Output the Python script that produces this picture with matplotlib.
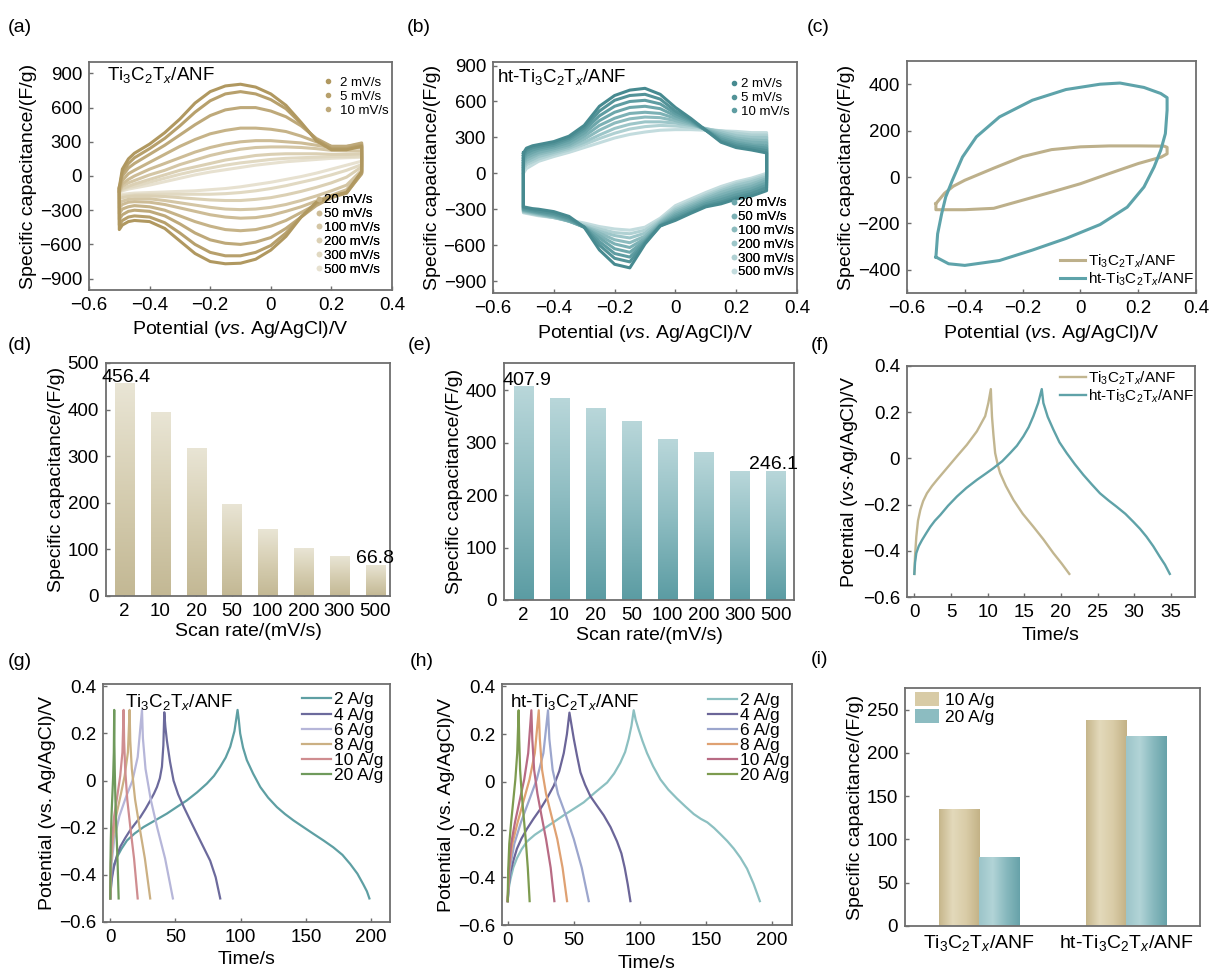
import numpy as np
import matplotlib
matplotlib.use('Agg')
import matplotlib.pyplot as plt
from matplotlib.lines import Line2D
from matplotlib.ticker import FuncFormatter
from matplotlib.colors import LinearSegmentedColormap

plt.rcParams['font.family'] = ['Liberation Sans', 'DejaVu Sans']
plt.rcParams['mathtext.fontset'] = 'custom'
plt.rcParams['mathtext.rm'] = 'Liberation Sans'
plt.rcParams['mathtext.it'] = 'Liberation Sans:italic'
plt.rcParams['axes.linewidth'] = 1.3
plt.rcParams['axes.edgecolor'] = '#6e6e6e'

TI = r'Ti$_3$C$_2$T$_x$/ANF'
HT = r'ht-Ti$_3$C$_2$T$_x$/ANF'

# ---- CV data, panels (a) and (b): values read at these potentials ----
cv_potential = [-0.5, -0.49, -0.47, -0.45, -0.4, -0.35, -0.3, -0.25, -0.2, -0.15,
                -0.1, -0.05, 0.0, 0.05, 0.1, 0.15, 0.2, 0.25, 0.3]
scan_labels = ['2 mV/s', '5 mV/s', '10 mV/s', '20 mV/s', '50 mV/s',
               '100 mV/s', '200 mV/s', '300 mV/s', '500 mV/s']

# anodic (upper) and cathodic (lower) branches, 2 ... 500 mV/s
a_upper = [
    [-100, 60, 150, 200, 280, 380, 500, 640, 740, 790, 805, 780, 720, 620, 470, 310, 230, 230, 260],
    [-110, 30, 110, 160, 240, 330, 440, 560, 660, 720, 740, 720, 670, 590, 460, 320, 240, 240, 270],
    [-120, 0, 70, 110, 190, 270, 360, 450, 530, 580, 600, 600, 570, 520, 440, 330, 260, 260, 290],
    [-130, -40, 20, 50, 120, 190, 260, 320, 370, 400, 420, 420, 410, 390, 350, 300, 260, 260, 280],
    [-140, -70, -30, 0, 60, 110, 160, 210, 250, 280, 300, 310, 310, 300, 290, 270, 250, 245, 250],
    [-140, -90, -60, -40, 10, 50, 100, 140, 180, 210, 235, 250, 255, 255, 250, 240, 225, 220, 220],
    [-140, -110, -90, -70, -30, 10, 50, 80, 110, 140, 160, 180, 190, 195, 195, 195, 190, 190, 195],
    [-140, -120, -100, -90, -55, -20, 15, 45, 70, 95, 115, 130, 145, 155, 160, 165, 170, 170, 175],
    [-140, -130, -115, -105, -80, -50, -20, 10, 35, 55, 75, 95, 110, 125, 135, 145, 155, 160, 165],
]
a_lower = [
    [-470, -430, -400, -390, -400, -460, -570, -680, -750, -770, -765, -730, -650, -530, -360, -230, -175, -145, 40],
    [-430, -390, -360, -350, -360, -410, -500, -600, -670, -700, -700, -670, -610, -500, -360, -240, -180, -150, 30],
    [-380, -340, -310, -300, -310, -350, -420, -500, -560, -590, -600, -580, -540, -460, -360, -260, -190, -150, 20],
    [-330, -290, -270, -260, -270, -300, -350, -400, -440, -470, -480, -470, -440, -390, -320, -250, -190, -140, 20],
    [-280, -250, -230, -225, -230, -250, -280, -310, -340, -360, -370, -365, -345, -310, -270, -220, -170, -120, 30],
    [-240, -220, -205, -200, -200, -215, -235, -255, -275, -290, -295, -290, -275, -250, -215, -175, -130, -80, 50],
    [-200, -190, -180, -175, -175, -180, -190, -200, -210, -215, -215, -205, -190, -165, -135, -100, -60, -10, 80],
    [-180, -175, -170, -165, -160, -160, -160, -160, -160, -155, -145, -130, -110, -85, -55, -25, 10, 50, 100],
    [-165, -160, -155, -150, -145, -140, -135, -130, -120, -110, -95, -75, -55, -30, -5, 25, 60, 95, 130],
]
b_upper = [
    [170, 210, 230, 240, 265, 310, 400, 560, 650, 695, 710, 660, 550, 460, 360, 260, 215, 195, 170],
    [150, 190, 215, 225, 250, 295, 380, 520, 610, 650, 660, 620, 520, 450, 360, 270, 230, 210, 190],
    [130, 170, 195, 210, 235, 280, 360, 480, 560, 600, 610, 580, 500, 440, 360, 285, 245, 225, 210],
    [110, 150, 175, 195, 220, 260, 335, 440, 510, 550, 560, 540, 480, 430, 360, 300, 260, 240, 230],
    [90, 130, 155, 175, 205, 240, 310, 400, 460, 500, 510, 500, 460, 420, 365, 315, 280, 260, 255],
    [70, 110, 135, 160, 190, 225, 285, 360, 420, 455, 470, 465, 440, 410, 370, 330, 295, 280, 275],
    [50, 90, 115, 140, 175, 210, 260, 320, 375, 410, 430, 430, 420, 400, 375, 345, 315, 300, 300],
    [30, 70, 95, 120, 160, 195, 240, 290, 335, 370, 390, 400, 395, 385, 370, 355, 335, 320, 320],
    [0, 40, 70, 100, 140, 175, 215, 255, 295, 325, 345, 360, 365, 365, 360, 355, 350, 340, 340],
]
b_lower = [
    [-280, -285, -295, -300, -320, -360, -450, -640, -760, -790, -590, -440, -393, -335, -280, -255, -215, -190, -145],
    [-290, -295, -305, -315, -335, -375, -450, -600, -710, -740, -580, -440, -380, -325, -270, -240, -200, -170, -120],
    [-300, -305, -315, -325, -345, -385, -450, -570, -670, -700, -570, -435, -365, -310, -255, -220, -180, -150, -100],
    [-305, -310, -320, -330, -355, -395, -450, -540, -630, -660, -560, -430, -350, -295, -240, -200, -160, -130, -80],
    [-310, -315, -325, -335, -360, -400, -450, -520, -590, -620, -545, -420, -335, -280, -225, -180, -140, -110, -60],
    [-315, -320, -330, -340, -365, -400, -445, -500, -555, -580, -525, -410, -320, -265, -210, -160, -120, -90, -45],
    [-320, -325, -335, -345, -370, -400, -440, -485, -520, -540, -500, -400, -305, -250, -195, -145, -100, -70, -30],
    [-325, -330, -340, -350, -370, -395, -430, -465, -495, -505, -475, -390, -290, -235, -180, -130, -85, -55, -15],
    [-330, -335, -345, -355, -370, -390, -415, -445, -465, -475, -450, -375, -270, -215, -160, -110, -70, -40, 0],
]
a_colors = ['#b09860', '#b7a06c', '#bea97a', '#c6b388', '#cdbc96', '#d4c6a5', '#dbd0b4', '#e1d9c2', '#e7e1d0']
b_colors = ['#478a90', '#539398', '#5f9da2', '#6da7ab', '#7cb1b5', '#8cbbbe', '#9dc6c9', '#b0d1d3', '#c3dcde']

# ---- panel (c): CV comparison ----
c_ti_v = [-0.5, -0.47, -0.44, -0.4, -0.3, -0.2, -0.1, 0.0, 0.1, 0.2, 0.29, 0.3, 0.3,
          0.28, 0.2, 0.1, 0.0, -0.1, -0.2, -0.3, -0.4, -0.5, -0.5]
c_ti_c = [-115, -70, -40, -14, 38, 88, 118, 130, 134, 134, 133, 128, 100,
          86, 58, 15, -29, -65, -100, -135, -141, -141, -115]
c_ht_v = [-0.5, -0.494, -0.48, -0.466, -0.443, -0.408, -0.36, -0.28, -0.166, -0.05, 0.068, 0.137,
          0.22, 0.278, 0.3, 0.3, 0.294, 0.278, 0.255, 0.22, 0.162, 0.068, -0.05, -0.166, -0.28,
          -0.4, -0.456, -0.5]
c_ht_c = [-345, -245, -158, -86, -14, 86, 173, 259, 331, 377, 400, 405,
          386, 360, 342, 288, 187, 115, 43, -43, -130, -205, -265, -315, -360,
          -381, -374, -345]

# ---- panels (d), (e): capacitance vs scan rate ----
scan_rates = ['2', '10', '20', '50', '100', '200', '300', '500']
d_cap = [456.4, 395, 318, 198, 143, 103, 85, 66.8]
e_cap = [407.9, 386, 366, 342, 307, 283, 246, 246.1]

# ---- panel (f): GCD comparison ----
f_ti_t = [0, 0.1, 0.27, 0.5, 0.82, 1.2, 1.72, 2.4, 3.09, 4.45, 5.81, 7.17, 8.53, 9.67, 10.1, 10.44,
          10.5, 10.6, 10.8, 11.03, 11.4, 11.71, 12.5, 13.53, 14.8, 16.25, 17.6, 18.97, 20.1, 21.15]
f_ti_v = [-0.5, -0.42, -0.339, -0.27, -0.223, -0.185, -0.151, -0.12, -0.093, -0.042, 0.009, 0.059, 0.117, 0.183, 0.24, 0.3,
          0.25, 0.18, 0.1, 0.023, -0.03, -0.064, -0.12, -0.18, -0.24, -0.296, -0.35, -0.41, -0.455, -0.5]
f_ht_t = [0, 0.1, 0.27, 0.6, 1.04, 1.6, 2.18, 2.8, 3.54, 4.6, 5.81, 7.1, 8.53, 9.7, 10.8, 12.0, 13.07,
          14.0, 14.89, 15.6, 16.25, 16.9, 17.39,
          17.5, 17.61, 18.2, 18.97, 19.8, 20.79, 21.9, 23.06, 24.2, 25.33, 26.5, 27.6, 28.8, 29.87,
          30.8, 31.68, 32.6, 33.5, 34.2, 34.86]
f_ht_v = [-0.5, -0.45, -0.41, -0.38, -0.354, -0.325, -0.296, -0.27, -0.245, -0.205, -0.165, -0.128, -0.093, -0.067, -0.042, -0.012, 0.023,
          0.055, 0.096, 0.135, 0.183, 0.24, 0.3,
          0.27, 0.24, 0.18, 0.125, 0.07, 0.023, -0.025, -0.071, -0.112, -0.151, -0.182, -0.209, -0.24, -0.274,
          -0.305, -0.339, -0.38, -0.426, -0.46, -0.5]

# ---- panels (g), (h): GCD at several current densities ----
current_labels = ['2 A/g', '4 A/g', '6 A/g', '8 A/g', '10 A/g', '20 A/g']
g_time = [
    [0, 0.5, 1.3, 3, 5.1, 8.5, 12.8, 18.5, 25.5, 34, 43.4, 51, 58.7, 66.5, 74, 79.5, 84.3, 88.5, 92, 95.2, 97.6,
     98.5, 99.6, 101.8, 104.7, 109.5, 115, 121, 127.7, 134, 140.5, 148, 155.8, 163.5, 171, 178, 184, 189.5, 194, 196.8, 198.7],
    [0, 0.8, 2.6, 5, 7.7, 11.5, 15.3, 19, 23, 27, 30.7, 33.5, 35.8, 38, 39.6, 40.7, 41.4,
     42.2, 43.4, 45.8, 48.5, 52, 56.2, 61, 66.4, 71.5, 76.6, 80.8, 84.3],
    [0, 1, 3, 7, 12, 17, 21, 24.3, 25, 27, 31, 36, 42, 48],
    [0, 0.6, 2, 4.5, 8, 11, 13.5, 14.8, 15.3, 16.5, 19, 22.5, 26.5, 30.6],
    [0, 0.4, 1.3, 3, 5.5, 7.6, 9.3, 10.2, 10.6, 11.4, 13, 15.4, 18.2, 21],
    [0, 0.15, 0.4, 0.9, 1.6, 2.2, 2.7, 3.0, 3.1, 3.4, 3.9, 4.6, 5.5, 6.4],
]
g_pot = [
    [-0.5, -0.45, -0.40, -0.355, -0.325, -0.29, -0.254, -0.225, -0.197, -0.17, -0.14, -0.112, -0.084, -0.05, -0.013, 0.02, 0.059, 0.098, 0.144, 0.21, 0.3,
     0.26, 0.2, 0.14, 0.087, 0.03, -0.027, -0.072, -0.112, -0.142, -0.169, -0.197, -0.226, -0.254, -0.283, -0.315, -0.354, -0.395, -0.44, -0.47, -0.5],
    [-0.5, -0.43, -0.37, -0.32, -0.28, -0.243, -0.21, -0.183, -0.155, -0.12, -0.084, -0.055, -0.027, 0.01, 0.059, 0.15, 0.29,
     0.23, 0.17, 0.08, 0.0, -0.058, -0.11, -0.165, -0.226, -0.283, -0.34, -0.41, -0.5],
    [-0.5, -0.35, -0.25, -0.15, -0.07, 0.0, 0.1, 0.3, 0.18, 0.05, -0.08, -0.2, -0.33, -0.5],
    [-0.5, -0.35, -0.25, -0.15, -0.06, 0.02, 0.12, 0.3, 0.17, 0.05, -0.08, -0.2, -0.33, -0.5],
    [-0.5, -0.35, -0.25, -0.15, -0.06, 0.02, 0.12, 0.3, 0.17, 0.05, -0.08, -0.2, -0.33, -0.5],
    [-0.5, -0.35, -0.25, -0.15, -0.06, 0.02, 0.12, 0.3, 0.17, 0.05, -0.08, -0.2, -0.33, -0.5],
]
h_time = [
    [0, 0.7, 2, 4.2, 7, 10.5, 14.6, 20.5, 27.2, 35, 42.4, 50, 57.5, 66, 75.2, 80.5, 85.2, 88.8, 91.5, 93.6, 95.3,
     96.8, 99, 102, 105.4, 110, 115.5, 121.5, 128, 134.5, 140.7, 146, 151, 156, 161, 166, 171, 176, 181, 186, 190.7],
    [0, 0.7, 2, 4.3, 7, 10.5, 14.6, 19.5, 24.7, 30, 34.8, 39, 42.4, 44.8, 46.7,
     48.2, 50, 52.4, 55, 58.5, 62.5, 67.5, 72.6, 77.8, 82.7, 86, 88.5, 90.8, 92.8],
    [0, 1.5, 5, 10, 16, 22, 27, 30.5, 31.5, 34, 38, 44, 50, 56, 61.3],
    [0, 1, 3.5, 7.5, 12, 16.5, 20.5, 23.5, 24.3, 26, 29, 33, 37.5, 41.5, 44.9],
    [0, 0.8, 2.6, 5.5, 9, 12.5, 15.5, 17.9, 18.6, 20, 22.5, 25.5, 29, 32.5, 35.3],
    [0, 0.4, 1.2, 2.6, 4.2, 5.8, 7.2, 8.3, 8.7, 9.4, 10.6, 12, 13.6, 15.2, 16.6],
]
h_pot = [
    [-0.5, -0.45, -0.41, -0.36, -0.32, -0.283, -0.25, -0.222, -0.197, -0.168, -0.14, -0.113, -0.086, -0.045, -0.003, 0.035, 0.08, 0.125, 0.18, 0.235, 0.3,
     0.26, 0.22, 0.17, 0.12, 0.065, 0.01, -0.033, -0.07, -0.104, -0.135, -0.155, -0.17, -0.193, -0.22, -0.248, -0.28, -0.318, -0.364, -0.428, -0.5],
    [-0.5, -0.44, -0.38, -0.33, -0.28, -0.237, -0.197, -0.155, -0.114, -0.066, -0.017, 0.045, 0.12, 0.2, 0.29,
     0.24, 0.18, 0.11, 0.04, -0.012, -0.06, -0.1, -0.14, -0.19, -0.25, -0.3, -0.36, -0.43, -0.5],
    [-0.5, -0.37, -0.26, -0.17, -0.08, 0.01, 0.12, 0.3, 0.18, 0.05, -0.05, -0.14, -0.24, -0.36, -0.5],
    [-0.5, -0.37, -0.26, -0.17, -0.08, 0.01, 0.12, 0.3, 0.18, 0.05, -0.05, -0.14, -0.24, -0.36, -0.5],
    [-0.5, -0.37, -0.26, -0.17, -0.08, 0.01, 0.12, 0.3, 0.18, 0.05, -0.05, -0.14, -0.24, -0.36, -0.5],
    [-0.5, -0.37, -0.26, -0.17, -0.08, 0.01, 0.12, 0.3, 0.18, 0.05, -0.05, -0.14, -0.24, -0.36, -0.5],
]
g_colors = ['#5e9fa3', '#6c6a9c', '#b6b6d9', '#cbb083', '#cf8d90', '#6f9a5c']
h_colors = ['#8cc0c1', '#6b6598', '#9ca6cd', '#dfa172', '#b86b84', '#7d9b4f']

# ---- panel (i) ----
i_samples = [TI, HT]
i_cap_10 = [135, 238]
i_cap_20 = [79.5, 220]

TAN = '#bdb08b'
TEAL = '#5ea3aa'


def style(ax):
    ax.tick_params(direction='in', length=3, width=1, color='#6e6e6e', labelsize=13.5, pad=5)


fmt = FuncFormatter(lambda v, _: f'{v:g}'.replace('-', '\u2212'))

fig = plt.figure(figsize=(12.11, 9.75), dpi=100)
W, H = 1211, 975


def axes_px(left, top, right, bottom):
    return fig.add_axes([left / W, 1 - bottom / H, (right - left) / W, (bottom - top) / H])


pot_label = r'Potential ($vs$. Ag/AgCl)/V'
cap_label = 'Specific capacitance/(F/g)'


def cv_panel(ax, upper, lower, colors, title, tx, ty, anchors, pads):
    for up, lo, c in list(zip(upper, lower, colors))[::-1]:
        xs = cv_potential + cv_potential[::-1] + [cv_potential[0]]
        ys = up + lo[::-1] + [up[0]]
        ax.plot(xs, ys, color=c, lw=2.2, solid_joinstyle='round')
    ax.set_xlim(-0.6, 0.4)
    ax.set_xticks([-0.6, -0.4, -0.2, 0, 0.2, 0.4])
    ax.set_yticks([-900, -600, -300, 0, 300, 600, 900])
    ax.xaxis.set_major_formatter(fmt)
    ax.yaxis.set_major_formatter(fmt)
    ax.set_xlabel(pot_label, fontsize=14)
    ax.set_ylabel(cap_label, fontsize=14, labelpad=2)
    ax.text(tx, ty, title, transform=ax.transAxes, fontsize=13.5, va='center')
    style(ax)
    groups = [(0, 3), (3, 9)]
    for (s, e), anc, pad in zip(groups, anchors, pads):
        hs = [Line2D([], [], ls='none', marker='o', ms=3, color=c) for c in colors[s:e]]
        leg = ax.legend(hs, scan_labels[s:e], loc='upper left', bbox_to_anchor=anc,
                        frameon=False, fontsize=9.5, handlelength=0.6, handletextpad=pad,
                        labelspacing=0.12, borderpad=0, borderaxespad=0)
        ax.add_artist(leg)


# (a)
ax = axes_px(89, 62, 392, 290)
cv_panel(ax, a_upper, a_lower, a_colors, TI, 0.06, 0.943, [(0.776, 0.935), (0.745, 0.42)], [0.6, 0.1])
ax.set_ylim(-1000, 1000)

# (b)
ax = axes_px(493, 62, 797, 293)
cv_panel(ax, b_upper, b_lower, b_colors, HT, 0.013, 0.935, [(0.78, 0.93), (0.78, 0.415)], [0.2, 0.0])
ax.set_ylim(-1000, 930)

# (c)
ax = axes_px(907, 61, 1196, 293)
ax.plot(c_ti_v, c_ti_c, color=TAN, lw=2.2, label=TI, solid_joinstyle='round')
ax.plot(c_ht_v, c_ht_c, color=TEAL, lw=2.2, label=HT, solid_joinstyle='round')
ax.set_xlim(-0.6, 0.4)
ax.set_ylim(-500, 500)
ax.set_xticks([-0.6, -0.4, -0.2, 0, 0.2, 0.4])
ax.set_yticks([-400, -200, 0, 200, 400])
ax.xaxis.set_major_formatter(fmt)
ax.yaxis.set_major_formatter(fmt)
ax.set_xlabel(pot_label, fontsize=14)
ax.set_ylabel(cap_label, fontsize=14, labelpad=2)
style(ax)
ax.legend(loc='upper left', bbox_to_anchor=(0.53, 0.175), frameon=False, fontsize=11,
          handlelength=1.6, handletextpad=0.2, labelspacing=0.05, borderpad=0, borderaxespad=0)


def shade_bars(ax, bars, cmap, horizontal=False):
    grad = np.linspace(0, 1, 128)
    img = grad.reshape(1, -1) if horizontal else grad.reshape(-1, 1)
    for b in bars:
        x0, y0 = b.get_x(), b.get_y()
        im = ax.imshow(img, cmap=cmap, origin='lower', aspect='auto', interpolation='bilinear',
                       extent=(x0, x0 + b.get_width(), y0, y0 + b.get_height()), zorder=2)
        im.set_clip_path(b)


tan_v = LinearSegmentedColormap.from_list('tan_v', ['#c3b894', '#d6ceb2', '#e9e5d5'])
teal_v = LinearSegmentedColormap.from_list('teal_v', ['#5b9ca3', '#8dbcc1', '#b9d7da'])

# (d)
ax = axes_px(106, 363, 390, 596)
pos = np.arange(len(scan_rates))
bars = ax.bar(pos, d_cap, width=0.53, color='#d6ceb2', zorder=1)
shade_bars(ax, bars, tan_v)
ax.set_xlim(-0.51, 7.41)
ax.set_ylim(0, 500)
ax.set_xticks(pos)
ax.set_xticklabels(scan_rates)
ax.set_yticks([0, 100, 200, 300, 400, 500])
ax.text(0.05, d_cap[0] + 3, '456.4', ha='center', va='baseline', fontsize=14)
ax.text(7, d_cap[-1] + 3, '66.8', ha='center', va='baseline', fontsize=14)
ax.set_xlabel('Scan rate/(mV/s)', fontsize=14, labelpad=2)
ax.set_ylabel(cap_label, fontsize=14, labelpad=2)
style(ax)

# (e)
ax = axes_px(504, 363, 794, 600)
bars = ax.bar(pos, e_cap, width=0.53, color='#8dbcc1', zorder=1)
shade_bars(ax, bars, teal_v)
ax.set_xlim(-0.54, 7.51)
ax.set_ylim(0, 452)
ax.set_xticks(pos)
ax.set_xticklabels(scan_rates)
ax.set_yticks([0, 100, 200, 300, 400])
ax.text(0.1, e_cap[0] + 3, '407.9', ha='center', va='baseline', fontsize=14)
ax.text(6.95, e_cap[-1] + 3, '246.1', ha='center', va='baseline', fontsize=14)
ax.set_xlabel('Scan rate/(mV/s)', fontsize=14, labelpad=2)
ax.set_ylabel(cap_label, fontsize=14, labelpad=2)
style(ax)

# (f)
ax = axes_px(907, 366, 1195, 597)
ax.plot(f_ti_t, f_ti_v, color='#c2b690', lw=1.7, label=TI)
ax.plot(f_ht_t, f_ht_v, color='#5fa2a8', lw=1.7, label=HT)
ax.set_xlim(-1, 38.3)
ax.set_ylim(-0.6, 0.4)
ax.set_xticks([0, 5, 10, 15, 20, 25, 30, 35])
ax.set_yticks([-0.6, -0.4, -0.2, 0, 0.2, 0.4])
ax.yaxis.set_major_formatter(fmt)
ax.set_xlabel('Time/s', fontsize=14)
ax.set_ylabel('Potential ($vs$\u00b7Ag/AgCl)/V', fontsize=14, labelpad=2)
style(ax)
ax.legend(loc='upper left', bbox_to_anchor=(0.53, 0.985), frameon=False, fontsize=11,
          handlelength=1.75, handletextpad=0.1, labelspacing=0.05, borderpad=0, borderaxespad=0)


def gcd_panel(ax, times, pots, colors, title, tx, ty, anchor, xlim):
    for t, v, c, lab in zip(times, pots, colors, current_labels):
        ax.plot(t, v, color=c, lw=1.6, label=lab)
    ax.set_xlim(*xlim)
    ax.set_ylim(-0.6, 0.41)
    ax.set_xticks([0, 50, 100, 150, 200])
    ax.set_yticks([-0.6, -0.4, -0.2, 0, 0.2, 0.4])
    ax.yaxis.set_major_formatter(fmt)
    ax.set_xlabel('Time/s', fontsize=14)
    ax.set_ylabel('Potential (vs. Ag/AgCl)/V', fontsize=14, labelpad=2)
    ax.text(tx, ty, title, transform=ax.transAxes, fontsize=13.5, va='center')
    style(ax)
    ax.legend(loc='upper left', bbox_to_anchor=anchor, frameon=False, fontsize=12.5,
              handlelength=1.7, handletextpad=0.15, labelspacing=0.0, borderpad=0, borderaxespad=0)


# (g)
ax = axes_px(103, 684, 390, 922)
gcd_panel(ax, g_time, g_pot, g_colors, TI, 0.077, 0.924, (0.693, 0.965), (-5.6, 214.5))

# (h)
ax = axes_px(502, 684, 792, 925)
gcd_panel(ax, h_time, h_pot, h_colors, HT, 0.028, 0.925, (0.71, 0.965), (-4.3, 215))

# (i)
ax = axes_px(905, 688, 1200, 926)
gx = np.arange(len(i_samples))
b10 = ax.bar(gx - 0.1375, i_cap_10, width=0.275, color='#d8cba6', label='10 A/g', zorder=1)
b20 = ax.bar(gx + 0.1375, i_cap_20, width=0.275, color='#8cbcc1', label='20 A/g', zorder=1)
shade_bars(ax, b10, LinearSegmentedColormap.from_list('tan_h', ['#c6b68b', '#e3d9bb', '#d9cca7', '#c3b286']), True)
shade_bars(ax, b20, LinearSegmentedColormap.from_list('teal_h', ['#9cc5c9', '#b2d4d7', '#88b9be', '#67a2a9']), True)
ax.set_xlim(-0.507, 1.505)
ax.set_ylim(0, 275)
ax.set_xticks(gx)
ax.set_xticklabels(i_samples)
ax.set_yticks([0, 50, 100, 150, 200, 250])
ax.set_ylabel(cap_label, fontsize=14, labelpad=2)
style(ax)
ax.tick_params(axis='x', length=0, labelsize=14)
ax.legend(loc='upper left', bbox_to_anchor=(0.034, 0.985), frameon=False, fontsize=12.5,
          handlelength=1.4, handleheight=0.9, handletextpad=0.3, labelspacing=0.05,
          borderpad=0, borderaxespad=0)

# panel letters
for lab, x, y in [('(a)', 20, 28), ('(b)', 419, 28), ('(c)', 818, 28),
                  ('(d)', 20, 345), ('(e)', 420, 345), ('(f)', 820, 345),
                  ('(g)', 20, 661), ('(h)', 422, 661), ('(i)', 819, 660)]:
    fig.text(x / W, 1 - y / H, lab, fontsize=14, ha='center', va='center')

fig.savefig('out.png', dpi=100)
